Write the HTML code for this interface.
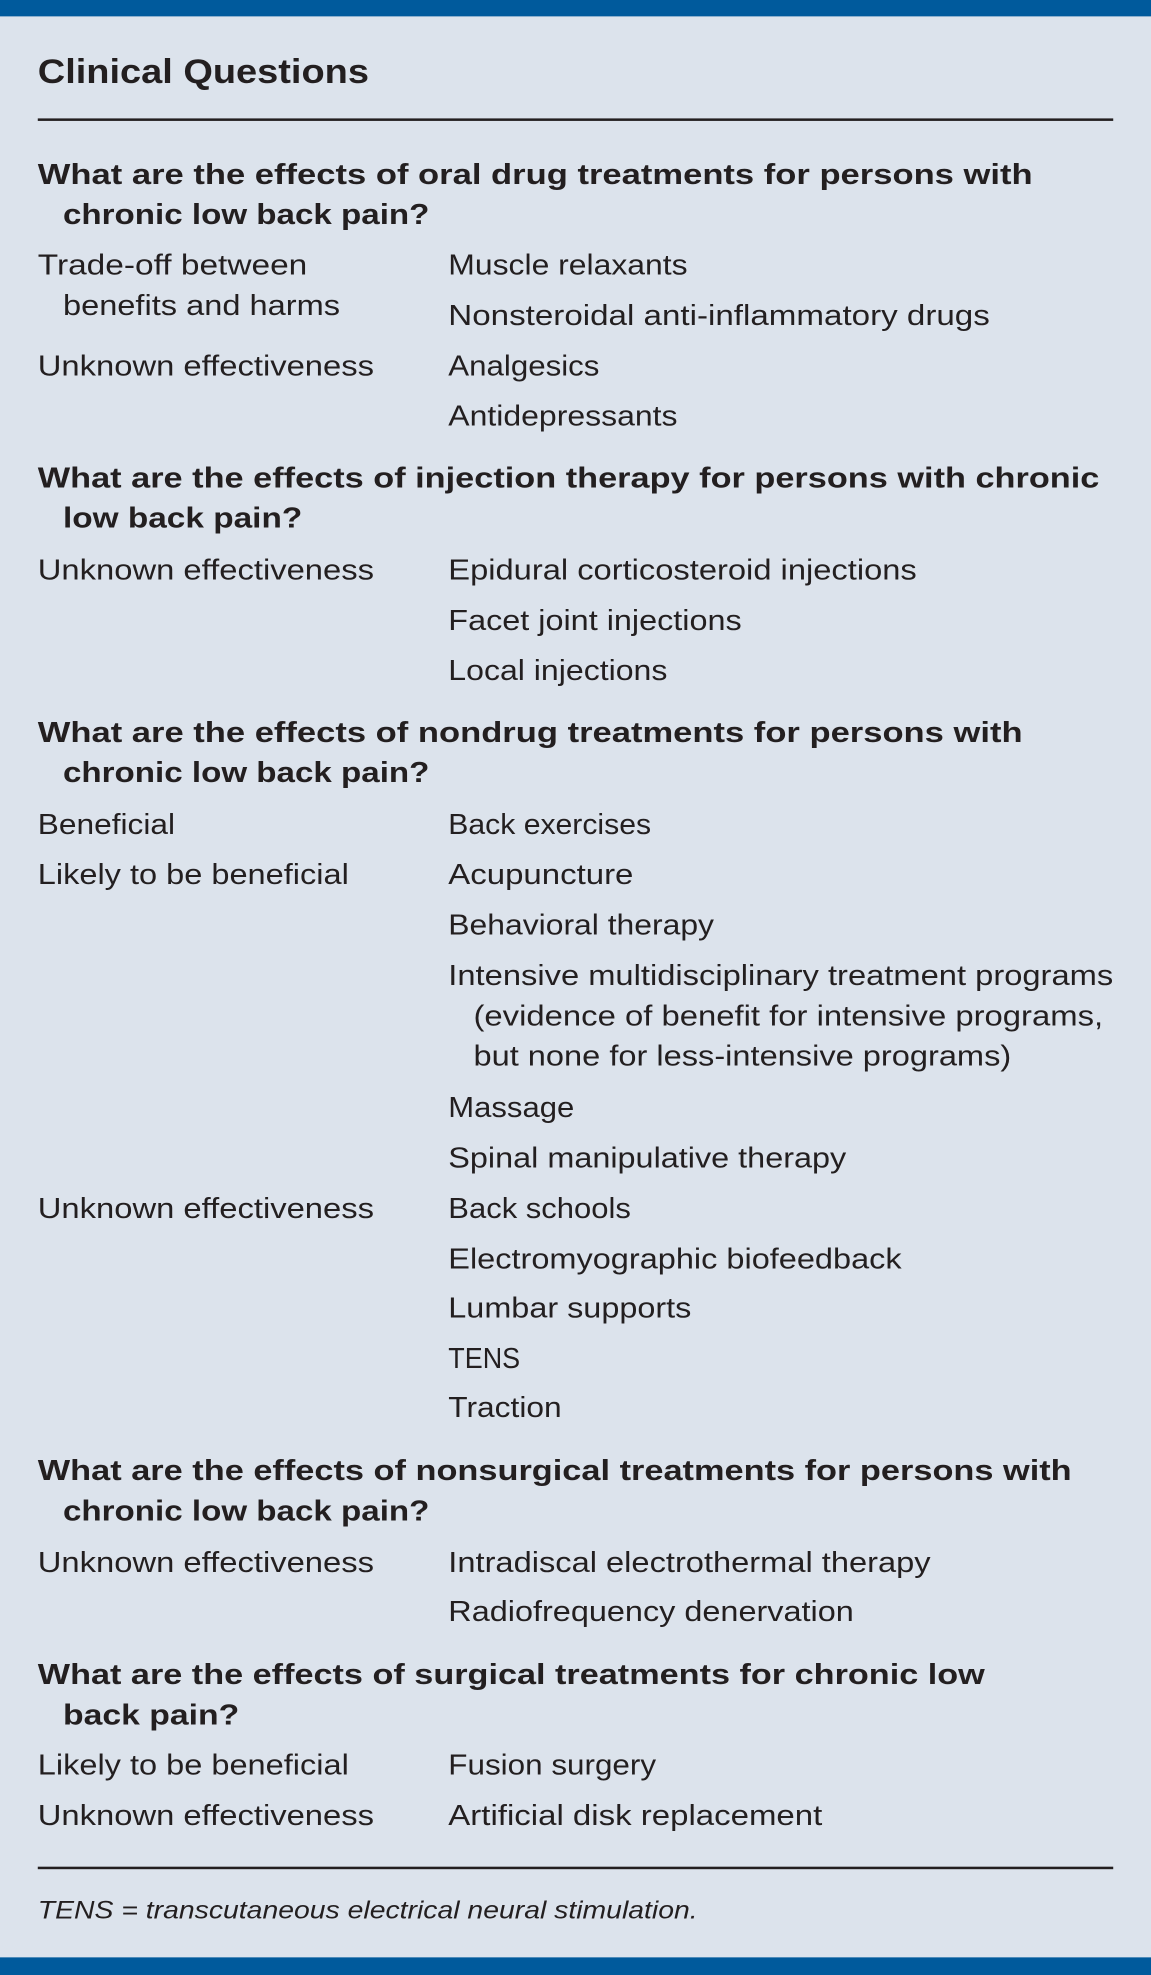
<!DOCTYPE html>
<html><head><style>
html,body{margin:0;padding:0;background:#dce3ec;}
svg{display:block}
text{font-family:"Liberation Sans",sans-serif;fill:#231f20;}
.b{font-weight:bold;font-size:23px}
.r{font-size:23px}
</style></head><body>
<svg width="1151" height="1975" viewBox="0 0 914 1568" preserveAspectRatio="none" xmlns="http://www.w3.org/2000/svg">
<rect x="0" y="0" width="914" height="1568" fill="#dce3ec"/>
<rect x="0" y="0" width="914" height="13" fill="#005a9c"/>
<rect x="0" y="1554" width="914" height="14" fill="#005a9c"/>
<text x="30" y="66" style="font-size:27px;font-weight:bold" textLength="263" lengthAdjust="spacingAndGlyphs">Clinical Questions</text>
<rect x="30" y="94" width="854" height="2" fill="#231f20"/>

<text class="b" x="30" y="146" textLength="790" lengthAdjust="spacingAndGlyphs">What are the effects of oral drug treatments for persons with</text>
<text class="b" x="50" y="178" textLength="291" lengthAdjust="spacingAndGlyphs">chronic low back pain?</text>
<text class="r" x="30" y="218" textLength="214" lengthAdjust="spacingAndGlyphs">Trade-off between</text>
<text class="r" x="50" y="250" textLength="220" lengthAdjust="spacingAndGlyphs">benefits and harms</text>
<text class="r" x="356" y="218" textLength="190" lengthAdjust="spacingAndGlyphs">Muscle relaxants</text>
<text class="r" x="356" y="258" textLength="430" lengthAdjust="spacingAndGlyphs">Nonsteroidal anti-inflammatory drugs</text>
<text class="r" x="30" y="298" textLength="267" lengthAdjust="spacingAndGlyphs">Unknown effectiveness</text>
<text class="r" x="356" y="298" textLength="120" lengthAdjust="spacingAndGlyphs">Analgesics</text>
<text class="r" x="356" y="338" textLength="182" lengthAdjust="spacingAndGlyphs">Antidepressants</text>

<text class="b" x="30" y="387" textLength="843" lengthAdjust="spacingAndGlyphs">What are the effects of injection therapy for persons with chronic</text>
<text class="b" x="50" y="419" textLength="190" lengthAdjust="spacingAndGlyphs">low back pain?</text>
<text class="r" x="30" y="460" textLength="267" lengthAdjust="spacingAndGlyphs">Unknown effectiveness</text>
<text class="r" x="356" y="460" textLength="372" lengthAdjust="spacingAndGlyphs">Epidural corticosteroid injections</text>
<text class="r" x="356" y="500" textLength="233" lengthAdjust="spacingAndGlyphs">Facet joint injections</text>
<text class="r" x="356" y="540" textLength="174" lengthAdjust="spacingAndGlyphs">Local injections</text>

<text class="b" x="30" y="589" textLength="782" lengthAdjust="spacingAndGlyphs">What are the effects of nondrug treatments for persons with</text>
<text class="b" x="50" y="621" textLength="291" lengthAdjust="spacingAndGlyphs">chronic low back pain?</text>
<text class="r" x="30" y="662" textLength="109" lengthAdjust="spacingAndGlyphs">Beneficial</text>
<text class="r" x="356" y="662" textLength="161" lengthAdjust="spacingAndGlyphs">Back exercises</text>
<text class="r" x="30" y="702" textLength="247" lengthAdjust="spacingAndGlyphs">Likely to be beneficial</text>
<text class="r" x="356" y="702" textLength="147" lengthAdjust="spacingAndGlyphs">Acupuncture</text>
<text class="r" x="356" y="742" textLength="211" lengthAdjust="spacingAndGlyphs">Behavioral therapy</text>
<text class="r" x="356" y="782" textLength="528" lengthAdjust="spacingAndGlyphs">Intensive multidisciplinary treatment programs</text>
<text class="r" x="376" y="814" textLength="500" lengthAdjust="spacingAndGlyphs">(evidence of benefit for intensive programs,</text>
<text class="r" x="376" y="846" textLength="427" lengthAdjust="spacingAndGlyphs">but none for less-intensive programs)</text>
<text class="r" x="356" y="887" textLength="100" lengthAdjust="spacingAndGlyphs">Massage</text>
<text class="r" x="356" y="927" textLength="316" lengthAdjust="spacingAndGlyphs">Spinal manipulative therapy</text>
<text class="r" x="30" y="967" textLength="267" lengthAdjust="spacingAndGlyphs">Unknown effectiveness</text>
<text class="r" x="356" y="967" textLength="145" lengthAdjust="spacingAndGlyphs">Back schools</text>
<text class="r" x="356" y="1007" textLength="360" lengthAdjust="spacingAndGlyphs">Electromyographic biofeedback</text>
<text class="r" x="356" y="1046" textLength="193" lengthAdjust="spacingAndGlyphs">Lumbar supports</text>
<text class="r" x="356" y="1086" textLength="57" lengthAdjust="spacingAndGlyphs">TENS</text>
<text class="r" x="356" y="1125" textLength="90" lengthAdjust="spacingAndGlyphs">Traction</text>

<text class="b" x="30" y="1175" textLength="821" lengthAdjust="spacingAndGlyphs">What are the effects of nonsurgical treatments for persons with</text>
<text class="b" x="50" y="1207" textLength="291" lengthAdjust="spacingAndGlyphs">chronic low back pain?</text>
<text class="r" x="30" y="1248" textLength="267" lengthAdjust="spacingAndGlyphs">Unknown effectiveness</text>
<text class="r" x="356" y="1248" textLength="383" lengthAdjust="spacingAndGlyphs">Intradiscal electrothermal therapy</text>
<text class="r" x="356" y="1287" textLength="322" lengthAdjust="spacingAndGlyphs">Radiofrequency denervation</text>

<text class="b" x="30" y="1337" textLength="752" lengthAdjust="spacingAndGlyphs">What are the effects of surgical treatments for chronic low</text>
<text class="b" x="50" y="1369" textLength="140" lengthAdjust="spacingAndGlyphs">back pain?</text>
<text class="r" x="30" y="1409" textLength="247" lengthAdjust="spacingAndGlyphs">Likely to be beneficial</text>
<text class="r" x="356" y="1409" textLength="165" lengthAdjust="spacingAndGlyphs">Fusion surgery</text>
<text class="r" x="30" y="1449" textLength="267" lengthAdjust="spacingAndGlyphs">Unknown effectiveness</text>
<text class="r" x="356" y="1449" textLength="297" lengthAdjust="spacingAndGlyphs">Artificial disk replacement</text>

<rect x="30" y="1482" width="854" height="2" fill="#231f20"/>
<text x="30" y="1523" style="font-size:20px;font-style:italic" textLength="524" lengthAdjust="spacingAndGlyphs">TENS = transcutaneous electrical neural stimulation.</text>
</svg>
</body></html>
